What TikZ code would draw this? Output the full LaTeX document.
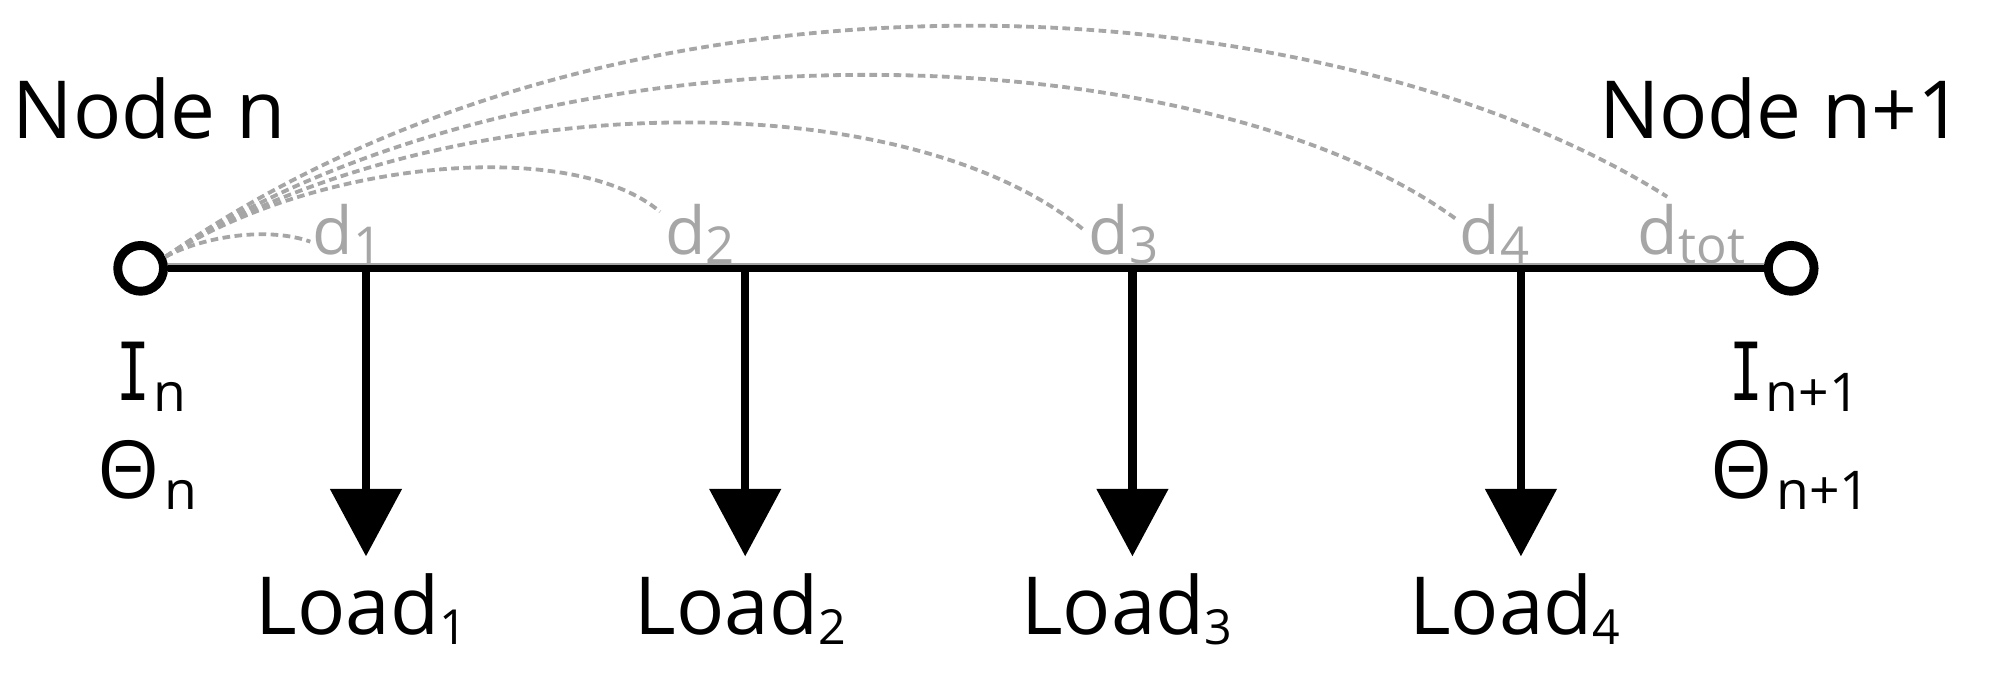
\documentclass[tikz,border=0pt]{standalone}
\usepackage{fontspec}
\usepackage{graphicx}
\setmainfont{Open Sans}
\newfontfamily\Ifont{DejaVu Sans Mono}
\usetikzlibrary{arrows.meta}
\definecolor{dgray}{HTML}{A6A6A6}
\newcommand\bigf{\fontsize{63}{70}\selectfont}
\newcommand\dfont{\fontsize{52}{54}\selectfont}
\newcommand\lsub[1]{\raisebox{-8pt}{\fontsize{38}{38}\selectfont #1}}
\newcommand\dsub[1]{\raisebox{-7pt}{\fontsize{40}{40}\selectfont #1}}
\newcommand\vsub[1]{\raisebox{-9pt}{\fontsize{42}{42}\selectfont #1}}
\newcommand\bigI{{\Ifont\scalebox{0.7}[1]{I}}}
\begin{document}
\begin{tikzpicture}[x=1pt,y=-1pt,
  txt/.style={inner sep=0pt,outer sep=0pt,font=\bigf},
  dlab/.style={inner sep=0pt,outer sep=0pt,anchor=base west,text=dgray,font=\dfont},
  term/.style={draw,circle,line width=7pt,minimum size=36pt,inner sep=0pt},
  arcline/.style={dgray,line width=3pt,dash pattern=on 6pt off 3.5pt},
  bus/.style={line width=5.5pt},
  loadarrow/.style={line width=6.5pt,-{Triangle[width=55pt,length=53pt]}},
  edgeline/.style={dgray,line width=1.5pt}]
\useasboundingbox (0,0) rectangle (1568,530.8);
% terminals
\node[term] (L) at (110.6,211) {};
\node[term] (R) at (1408.5,211) {};
% junctions and tips
\coordinate (j1) at (287.8,211);
\coordinate (j2) at (586,211);
\coordinate (j3) at (890.5,211);
\coordinate (j4) at (1196,211);
\coordinate (t1) at (287.8,437.5);
\coordinate (t2) at (586,437.5);
\coordinate (t3) at (890.5,437.5);
\coordinate (t4) at (1196,437.5);
% bus
\draw[edgeline] ([yshift=3.2pt]L.east) -- ([yshift=3.2pt]R.west);
\draw[bus] (L.east) -- (R.west);
\draw[loadarrow] (j1) -- (t1);
\draw[loadarrow] (j2) -- (t2);
\draw[loadarrow] (j3) -- (t3);
\draw[loadarrow] (j4) -- (t4);
% distance arcs
\coordinate (e1) at (244,190);
\coordinate (e2) at (519,166.5);
\coordinate (e3) at (852.6,181);
\coordinate (e4) at (1146,173);
\coordinate (e5) at (1311,154.7);
\draw[arcline] (L.25) .. controls (160,186) and (210,178) .. (e1);
\draw[arcline] (L.25) .. controls (250,125) and (450,108) .. (e2);
\draw[arcline] (L.25) .. controls (340,70) and (706,60) .. (e3);
\draw[arcline] (L.25) .. controls (430,5) and (948,27) .. (e4);
\draw[arcline] (L.25) .. controls (500,-55) and (1050,-10) .. (e5);
% distance labels
\node[dlab] (d1) at (246,200) {d\dsub{1}};
\node[dlab] (d2) at (523,200) {d\dsub{2}};
\node[dlab] (d3) at (856,200) {d\dsub{3}};
\node[dlab] (d4) at (1148,200) {d\dsub{4}};
\node[dlab] (dt) at (1288,200) {d\dsub{tot}};
% node titles
\node[txt,anchor=base west] (nn) at (10,108.8) {Node n};
\node[txt,anchor=base east] (nn1) at (1544,108.8) {Node n+1};
% currents and angles
\node[txt,anchor=base west] (In) at (92,314.6) {\bigI\kern2pt\vsub{n}};
\node[txt,anchor=base west] (Tn) at (77,391.8) {Θ\kern3pt\vsub{n}};
\node[txt,anchor=base west] (In1) at (1360,314.6) {\bigI\kern2pt\vsub{n+1}};
\node[txt,anchor=base west] (Tn1) at (1345,391.8) {Θ\kern3pt\vsub{n+1}};
% loads
\node[txt,anchor=base west] (ld1) at (201,499) {Load\lsub{1}};
\node[txt,anchor=base west] (ld2) at (499,499) {Load\lsub{2}};
\node[txt,anchor=base west] (ld3) at (803,499) {Load\lsub{3}};
\node[txt,anchor=base west] (ld4) at (1108,499) {Load\lsub{4}};
\end{tikzpicture}
\end{document}
